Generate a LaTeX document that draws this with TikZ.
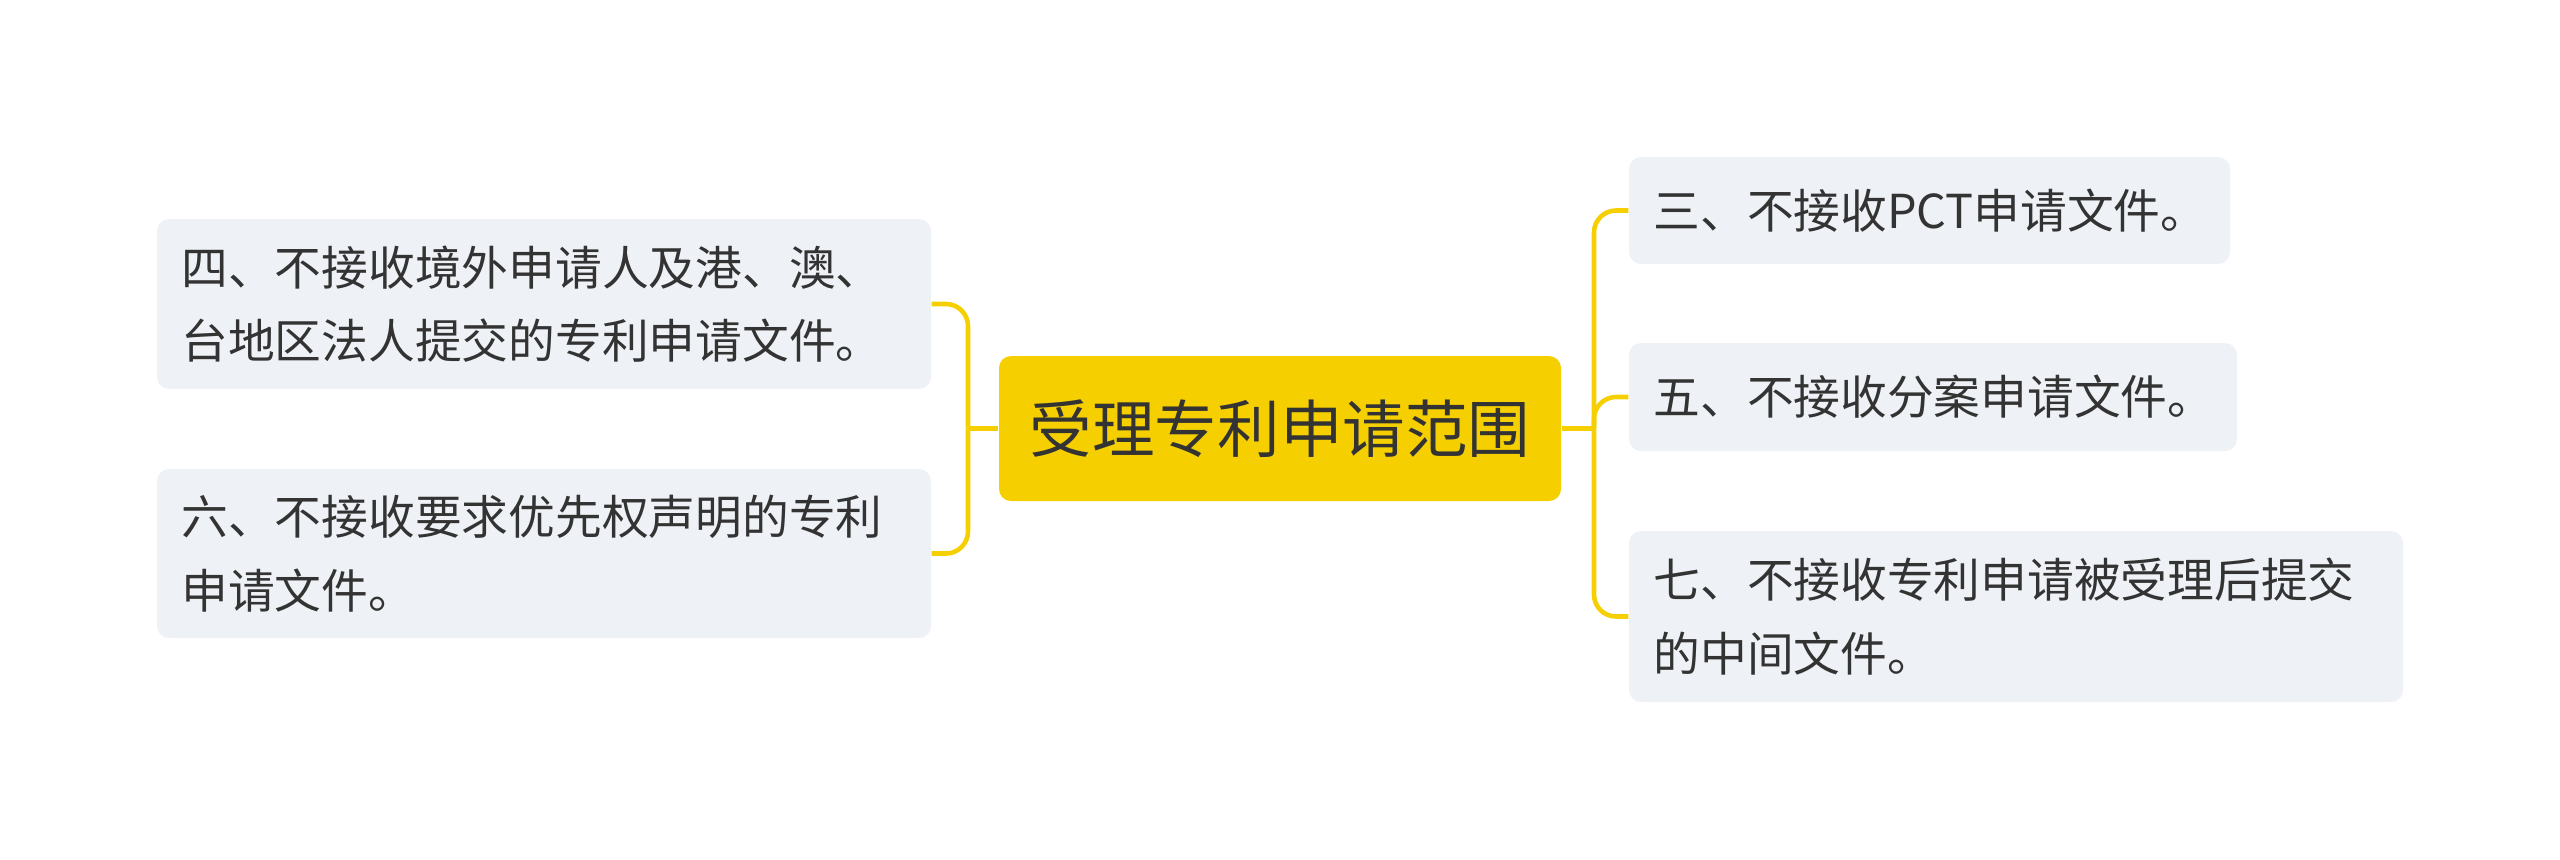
\documentclass[tikz,border=0pt]{standalone}
\usepackage{fontspec}
\newfontfamily\cjk{Noto Sans CJK SC}
\definecolor{mmyellow}{HTML}{F5CF00}
\definecolor{boxfill}{HTML}{EEF1F5}
\definecolor{txt}{HTML}{333333}
\begin{document}
\begin{tikzpicture}[
  rootbox/.style={fill=mmyellow, rounded corners=0.12cm, minimum width=5.62cm, minimum height=1.45cm, inner sep=0pt, text=txt, font=\cjk\fontsize{17.8pt}{22pt}\selectfont},
  leafbox/.style={fill=boxfill, rounded corners=0.12cm, inner xsep=0.245cm, inner ysep=0pt, align=left, text=txt, font=\cjk\fontsize{13.3pt}{20.9pt}\selectfont},
  conn/.style={draw=mmyellow, line width=1.3pt},
  branch/.style={conn, rounded corners=0.22cm}
]
\useasboundingbox (0,0) rectangle (25.6,-8.59);
\node[rootbox] (root) at (12.80,-4.285) {受理专利申请范围};
\node[leafbox, minimum width=7.74cm, minimum height=1.70cm, text width=7.25cm] (b4) at (5.44,-3.04) {四、不接收境外申请人及港、澳、\\台地区法人提交的专利申请文件。};
\node[leafbox, minimum width=7.74cm, minimum height=1.69cm, text width=7.25cm] (b6) at (5.44,-5.535) {六、不接收要求优先权声明的专利\\申请文件。};
\node[leafbox, minimum width=6.01cm, minimum height=1.07cm, text width=5.52cm] (b3) at (19.295,-2.105) {三、不接收PCT申请文件。};
\node[leafbox, minimum width=6.08cm, minimum height=1.08cm, text width=5.59cm] (b5) at (19.33,-3.97) {五、不接收分案申请文件。};
\node[leafbox, minimum width=7.74cm, minimum height=1.71cm, text width=7.25cm] (b7) at (20.16,-6.165) {七、不接收专利申请被受理后提交\\的中间文件。};
\coordinate (jl) at (9.68,-4.285);
\coordinate (jr) at (15.94,-4.285);
\draw[conn] (root.west) -- (jl);
\draw[conn] (root.east) -- (jr);
\draw[branch] (jl) |- (b4.east);
\draw[branch] (jl) |- (b6.east);
\draw[branch] (jr) |- (b3.west);
\draw[branch] (jr) |- (b5.west);
\draw[branch] (jr) |- (b7.west);
\end{tikzpicture}
\end{document}
